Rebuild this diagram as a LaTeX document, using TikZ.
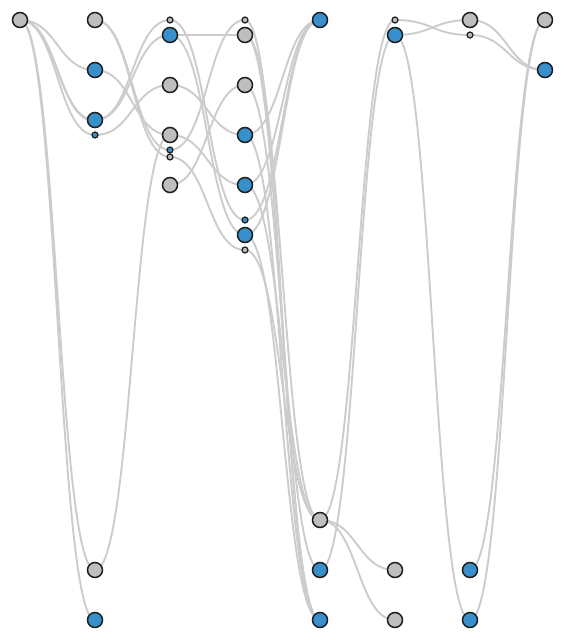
\documentclass[tikz,border=0pt]{standalone}
\usepackage{xcolor}
\usepackage{tikz}
\usetikzlibrary{backgrounds}

\definecolor{nodeblue}{RGB}{55,143,203}
\definecolor{nodegray}{RGB}{190,190,190}
\definecolor{nodeline}{RGB}{30,30,30}
\definecolor{linkgray}{RGB}{204,204,204}

\begin{document}
\begin{tikzpicture}[x=1pt,y=-1pt]
    \tikzset{
        bignode/.style={circle,draw=nodeline,line width=1.5pt,minimum size=15pt,inner sep=0pt},
        smallnode/.style={circle,draw=nodeline,line width=1.2pt,minimum size=6pt,inner sep=0pt},
        gbig/.style={bignode,fill=nodegray},
        bbig/.style={bignode,fill=nodeblue},
        gsmall/.style={smallnode,fill=nodegray},
        bsmall/.style={smallnode,fill=nodeblue},
        link/.style={draw=linkgray,line width=1.9pt,
            to path={.. controls ([xshift=37.5pt]\tikztostart) and ([xshift=-37.5pt]\tikztotarget) .. (\tikztotarget)}}
    }
    \useasboundingbox (0,0) rectangle (565,640);

    % column a
    \node[gbig] (a1) at (20,20) {};

    % column b
    \node[gbig] (b1) at (95,20) {};
    \node[bbig] (b2) at (95,70) {};
    \node[bbig] (b3) at (95,120) {};
    \node[bsmall] (b4) at (95,135) {};
    \node[gbig] (b5) at (95,570) {};
    \node[bbig] (b6) at (95,620) {};

    % column c
    \node[gsmall] (c1) at (170,20) {};
    \node[bbig] (c2) at (170,35) {};
    \node[gbig] (c3) at (170,85) {};
    \node[gbig] (c4) at (170,135) {};
    \node[bsmall] (c5) at (170,150) {};
    \node[gsmall] (c6) at (170,157) {};
    \node[gbig] (c7) at (170,185) {};

    % column d
    \node[gsmall] (d1) at (245,20) {};
    \node[gbig] (d2) at (245,35) {};
    \node[gbig] (d3) at (245,85) {};
    \node[bbig] (d4) at (245,135) {};
    \node[bbig] (d5) at (245,185) {};
    \node[bsmall] (d6) at (245,220) {};
    \node[bbig] (d7) at (245,235) {};
    \node[gsmall] (d8) at (245,250) {};

    % column e
    \node[bbig] (e1) at (320,20) {};
    \node[gbig] (e2) at (320,520) {};
    \node[bbig] (e3) at (320,570) {};
    \node[bbig] (e4) at (320,620) {};

    % column f
    \node[gsmall] (f1) at (395,20) {};
    \node[bbig] (f2) at (395,35) {};
    \node[gbig] (f3) at (395,570) {};
    \node[gbig] (f4) at (395,620) {};

    % column g
    \node[gbig] (g1) at (470,20) {};
    \node[gsmall] (g2) at (470,35) {};
    \node[bbig] (g3) at (470,570) {};
    \node[bbig] (g4) at (470,620) {};

    % column h
    \node[gbig] (h1) at (545,20) {};
    \node[bbig] (h2) at (545,70) {};

    % links
    \begin{scope}[on background layer]
        % a to b
        \draw[link] (a1.center) to (b2.center);
        \draw[link] (a1.center) to (b3.center);
        \draw[link] (a1.center) to ([yshift=-1pt]b3.center);
        \draw[link] (a1.center) to (b4.center);
        \draw[link] (a1.center) to (b5.center);
        \draw[link] (a1.center) to (b6.center);
        % b to c
        \draw[link] (b1.center) to (c5.center);
        \draw[link] (b1.center) to (c6.center);
        \draw[link] (b2.center) to (c4.center);
        \draw[link] (b3.center) to (c1.center);
        \draw[link] (b3.center) to (c2.center);
        \draw[link] (b4.center) to (c3.center);
        \draw[link] (b5.center) to (c4.center);
        % c to d
        \draw[link] (c1.center) to (d6.center);
        \draw[link] (c2.center) to (d2.center);
        \draw[link] (c2.center) to (d7.center);
        \draw[link] (c3.center) to (d4.center);
        \draw[link] (c4.center) to (d5.center);
        \draw[link] (c5.center) to (d1.center);
        \draw[link] (c6.center) to (d8.center);
        \draw[link] (c7.center) to (d3.center);
        % d to e
        \draw[link] (d4.center) to (e1.center);
        \draw[link] (d5.center) to (e1.center);
        \draw[link] (d6.center) to (e1.center);
        \draw[link] (d7.center) to (e1.center);
        \draw[link] (d1.center) to (e4.center);
        \draw[link] (d2.center) to (e4.center);
        \draw[link] (d2.center) to (e2.center);
        \draw[link] (d3.center) to (e3.center);
        \draw[link] (d4.center) to (e4.center);
        \draw[link] (d5.center) to (e2.center);
        \draw[link] (d7.center) to (e4.center);
        \draw[link] (d8.center) to (e2.center);
        % e to f
        \draw[link] (e2.center) to (f1.center);
        \draw[link] (e3.center) to (f2.center);
        \draw[link] (e2.center) to (f3.center);
        \draw[link] (e2.center) to (f4.center);
        % f to g
        \draw[link] (f1.center) to (g2.center);
        \draw[link] (f2.center) to (g1.center);
        \draw[link] (f2.center) to (g4.center);
        % g to h
        \draw[link] (g1.center) to (h2.center);
        \draw[link] (g2.center) to (h2.center);
        \draw[link] (g3.center) to (h1.center);
        \draw[link] (g4.center) to (h1.center);
    \end{scope}
\end{tikzpicture}
\end{document}
